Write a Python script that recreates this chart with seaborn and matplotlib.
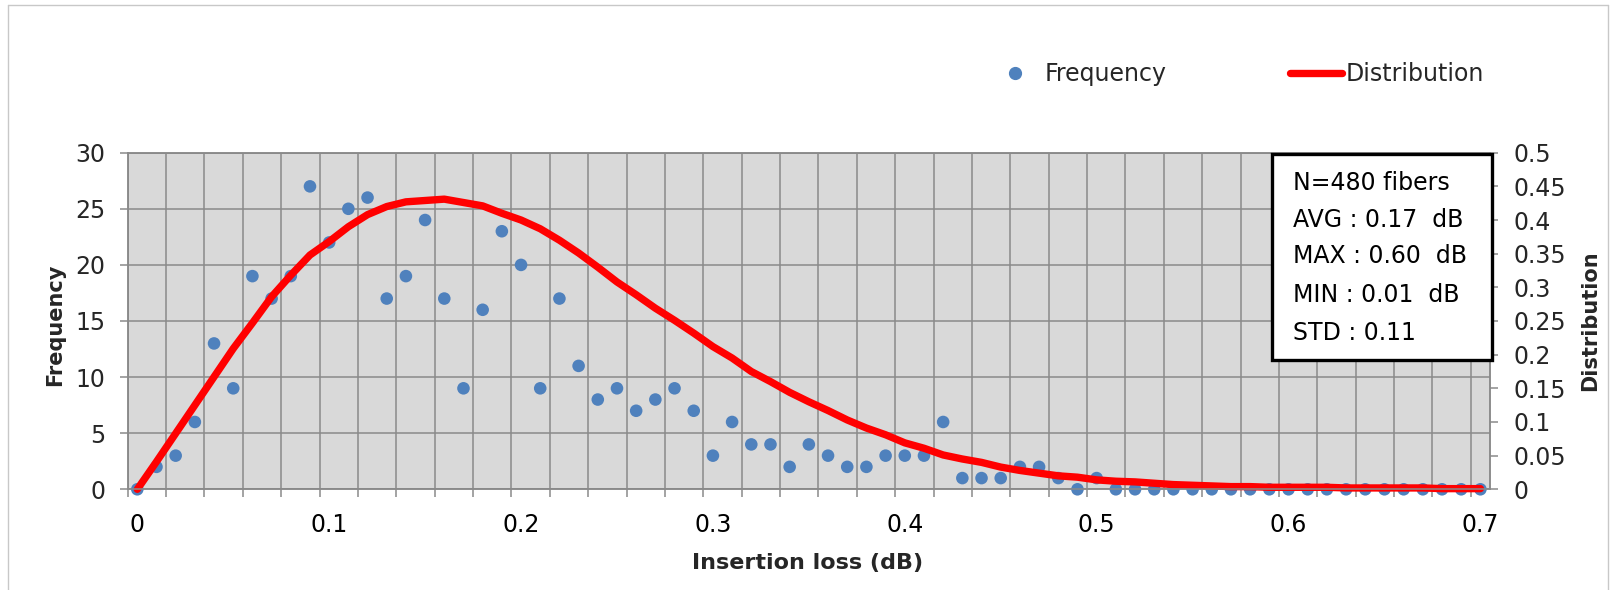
import matplotlib
matplotlib.use("Agg")
import matplotlib.pyplot as plt
from matplotlib.lines import Line2D
from matplotlib.patches import Rectangle
import numpy as np
import pandas as pd
import seaborn as sns

# ---------------- data ----------------
loss = [0.00, 0.01, 0.02, 0.03, 0.04, 0.05, 0.06, 0.07, 0.08, 0.09,
        0.10, 0.11, 0.12, 0.13, 0.14, 0.15, 0.16, 0.17, 0.18, 0.19,
        0.20, 0.21, 0.22, 0.23, 0.24, 0.25, 0.26, 0.27, 0.28, 0.29,
        0.30, 0.31, 0.32, 0.33, 0.34, 0.35, 0.36, 0.37, 0.38, 0.39,
        0.40, 0.41, 0.42, 0.43, 0.44, 0.45, 0.46, 0.47, 0.48, 0.49,
        0.50, 0.51, 0.52, 0.53, 0.54, 0.55, 0.56, 0.57, 0.58, 0.59,
        0.60, 0.61, 0.62, 0.63, 0.64, 0.65, 0.66, 0.67, 0.68, 0.69,
        0.70]

frequency = [0, 2, 3, 6, 13, 9, 19, 17, 19, 27,
             22, 25, 26, 17, 19, 24, 17, 9, 16, 23,
             20, 9, 17, 11, 8, 9, 7, 8, 9, 7,
             3, 6, 4, 4, 2, 4, 3, 2, 2, 3,
             3, 3, 6, 1, 1, 1, 2, 2, 1, 0,
             1, 0, 0, 0, 0, 0, 0, 0, 0, 0,
             0, 0, 0, 0, 0, 0, 0, 0, 0, 0,
             0]

distribution = [0.000, 0.041, 0.083, 0.125, 0.167, 0.209, 0.247, 0.286, 0.318, 0.348,
                0.368, 0.390, 0.408, 0.420, 0.427, 0.429, 0.431, 0.426, 0.421, 0.410,
                0.400, 0.387, 0.370, 0.351, 0.330, 0.308, 0.289, 0.269, 0.251, 0.232,
                0.212, 0.195, 0.175, 0.160, 0.144, 0.130, 0.117, 0.103, 0.091, 0.081,
                0.069, 0.061, 0.051, 0.045, 0.040, 0.033, 0.028, 0.024, 0.020, 0.018,
                0.014, 0.012, 0.011, 0.009, 0.007, 0.006, 0.005, 0.004, 0.004, 0.003,
                0.003, 0.003, 0.003, 0.002, 0.002, 0.002, 0.002, 0.002, 0.001, 0.001,
                0.001]

x_ticks = [0.0, 0.1, 0.2, 0.3, 0.4, 0.5, 0.6, 0.7]
x_tick_labels = ["0", "0.1", "0.2", "0.3", "0.4", "0.5", "0.6", "0.7"]
freq_ticks = [0, 5, 10, 15, 20, 25, 30]
freq_tick_labels = ["0", "5", "10", "15", "20", "25", "30"]
dist_ticks = [0, 0.05, 0.1, 0.15, 0.2, 0.25, 0.3, 0.35, 0.4, 0.45, 0.5]
dist_tick_labels = ["0", "0.05", "0.1", "0.15", "0.2", "0.25", "0.3",
                    "0.35", "0.4", "0.45", "0.5"]
stats_lines = ["N=480 fibers", "AVG : 0.17  dB", "MAX : 0.60  dB",
               "MIN : 0.01  dB", "STD : 0.11"]

df = pd.DataFrame({"loss": loss, "Frequency": frequency,
                   "Distribution": distribution})

# ---------------- style ----------------
sns.set_style("white")
plt.rcParams["font.family"] = ["DejaVu Sans"]

GRID = "#8a8a8a"
BLUE = "#4f81bd"
RED = "#ff0000"

W, H = 1621, 590
fig = plt.figure(figsize=(W / 100, H / 100), dpi=100)
fig.patch.set_facecolor("white")

ax_left, ax_right = 127.7 / W, 1490 / W
ax_top, ax_bot = 1 - 152.7 / H, 1 - 489.3 / H
ax = fig.add_axes([ax_left, ax_bot, ax_right - ax_left, ax_top - ax_bot])
ax.set_facecolor("#d9d9d9")
ax2 = ax.twinx()

sns.scatterplot(data=df, x="loss", y="Frequency", ax=ax, color=BLUE,
                s=82, edgecolor="none", linewidth=0, legend=False,
                zorder=3, clip_on=False)
sns.lineplot(data=df, x="loss", y="Distribution", ax=ax2, color=RED,
             linewidth=5.3, legend=False, clip_on=False,
             solid_joinstyle="round", solid_capstyle="round")

# axes limits / ticks
ax.set_xlim(-0.005, 0.705)
ax.set_ylim(0, 30)
ax2.set_ylim(0, 0.5)

ax.set_xticks(x_ticks)
ax.set_xticklabels(x_tick_labels)
# category boundaries (every second category) for gridlines / tick marks
ax.set_xticks([-0.005 + 0.02 * k for k in range(36)], minor=True)
ax.set_yticks(freq_ticks)
ax.set_yticklabels(freq_tick_labels)
ax2.set_yticks(dist_ticks)
ax2.set_yticklabels(dist_tick_labels)

ax.set_axisbelow(True)
ax.grid(False)
ax.grid(which="minor", axis="x", color=GRID, linewidth=1.1)
ax.grid(which="major", axis="y", color=GRID, linewidth=1.1)
ax2.grid(False)

ax.tick_params(axis="x", which="major", length=0, pad=17, labelsize=17,
               labelcolor="black")
ax.tick_params(axis="x", which="minor", length=6, width=1.1, color=GRID,
               direction="out", bottom=True)
ax.tick_params(axis="y", which="major", length=6, width=1.1, color=GRID,
               pad=10, labelsize=17, direction="out", left=True)
ax2.tick_params(axis="y", which="major", length=6, width=1.1, color=GRID,
                pad=11, labelsize=17, direction="out", right=True)

for a in (ax, ax2):
    for sp in a.spines.values():
        sp.set_color(GRID)
        sp.set_linewidth(1.1)

# labels
ax.set_xlabel("Insertion loss (dB)", fontsize=16, fontweight="bold")
ax.xaxis.set_label_coords(0.4987, -0.219)
ax.xaxis.label.set_va("center")
ax.set_ylabel("Frequency", fontsize=15, fontweight="bold")
ax.yaxis.set_label_coords((55 - 127.7) / 1362.3, 0.49)
ax.yaxis.label.set_va("center")
ax2.set_ylabel("Distribution", fontsize=15, fontweight="bold")
ax2.yaxis.set_label_coords((1590 - 127.7) / 1362.3, 0.50)
ax2.yaxis.label.set_va("center")

# legend
handles = [
    Line2D([], [], marker="o", linestyle="none", markersize=8.5,
           markerfacecolor=BLUE, markeredgecolor=BLUE),
    Line2D([], [], color=RED, linewidth=5.3, solid_capstyle="round"),
]
fig.legend(handles, ["Frequency", "Distribution"], loc="center",
           bbox_to_anchor=(1236.5 / W, 1 - 74 / H), ncol=2, frameon=False,
           fontsize=17, handlelength=2.2, handletextpad=0.15,
           columnspacing=5.2, borderpad=0)

# statistics box
fig.add_artist(Rectangle((1272 / W, 1 - 360 / H), 220 / W, 206 / H,
                         transform=fig.transFigure, facecolor="white",
                         edgecolor="black", linewidth=2.4, zorder=5))
baselines = [190.1, 226.7, 263.4, 301.7, 340.1]
for txt, yb in zip(stats_lines, baselines):
    fig.text(1292.7 / W, 1 - yb / H, txt, fontsize=17, ha="left",
             va="baseline", color="black", zorder=6)

# chart-area border
bc = "#c8c8c8"
fig.add_artist(Line2D([8 / W, 8 / W], [0, 1 - 5 / H], transform=fig.transFigure,
                      color=bc, linewidth=1))
fig.add_artist(Line2D([8 / W, 1608 / W], [1 - 5 / H, 1 - 5 / H],
                      transform=fig.transFigure, color=bc, linewidth=1))
fig.add_artist(Line2D([1608 / W, 1608 / W], [0, 1 - 5 / H],
                      transform=fig.transFigure, color=bc, linewidth=1))

fig.savefig("out.png", dpi=100)
